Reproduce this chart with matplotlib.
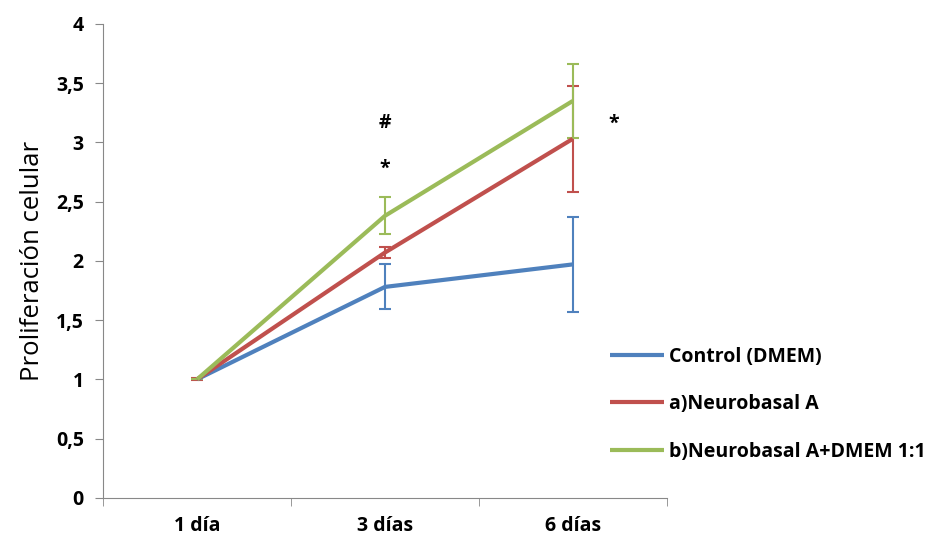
import matplotlib.pyplot as plt
import numpy as np

categories = ["1 día", "3 días", "6 días"]
series_names = ["Control (DMEM)", "a)Neurobasal A", "b)Neurobasal A+DMEM 1:1"]
control = [1.0, 1.78, 1.97]
control_err = [0.0, 0.19, 0.40]
neuro = [1.0, 2.07, 3.03]
neuro_err = [0.01, 0.045, 0.45]
mix = [1.0, 2.38, 3.35]
mix_err = [0.0, 0.155, 0.31]
colors = ["#4F81BD", "#C0504D", "#9BBB59"]

# significance marks: (category position, y value, text)
marks = [(1, 3.16, "#"), (1, 2.78, "*"), (2.22, 3.16, "*")]

plt.rcParams['font.family'] = ['Open Sans', 'DejaVu Sans']

fig = plt.figure(figsize=(9.47, 5.44), dpi=100)
ax = fig.add_axes([0.109, 0.085, 0.595, 0.871])

x = np.arange(len(categories))
handles = []
for vals, errs, c, name in zip([control, neuro, mix], [control_err, neuro_err, mix_err],
                               colors, series_names):
    ax.errorbar(x, vals, yerr=errs, color=c, elinewidth=1.5, capsize=4.5,
                capthick=1.5, fmt='none', zorder=2)
    h, = ax.plot(x, vals, color=c, lw=3, solid_capstyle='butt', label=name, zorder=3)
    handles.append(h)

for px, py, t in marks:
    ax.text(px, py, t, ha='center', va='center', fontsize=14, fontweight='bold')

ax.set_xlim(-0.5, 2.5)
ax.set_ylim(0, 4)
ax.set_xticks(x)
ax.set_xticklabels(categories, fontsize=14, fontweight='bold')
ax.set_xticks([-0.5, 0.5, 1.5, 2.5], minor=True)
ax.tick_params(axis='x', which='major', length=0, pad=13)
ax.tick_params(axis='x', which='minor', length=6, color='#888888', direction='out')
ax.set_yticks(np.arange(0, 4.01, 0.5))
ax.set_yticklabels([("%g" % v).replace('.', ',') for v in np.arange(0, 4.01, 0.5)],
                   fontsize=14, fontweight='bold')
ax.tick_params(axis='y', length=6, color='#888888', pad=8)
ax.set_ylabel("Proliferación celular", fontsize=18.5, labelpad=8)

for s in ['top', 'right']:
    ax.spines[s].set_visible(False)
for s in ['left', 'bottom']:
    ax.spines[s].set_color('#888888')

fig.legend(handles=handles, loc='upper left', bbox_to_anchor=(0.644, 0.362),
           frameon=False, prop={'size': 14, 'weight': 'bold'}, handlelength=2.8,
           labelspacing=1.4, handletextpad=0.25, borderpad=0, borderaxespad=0)

fig.savefig("out.png", dpi=100)
